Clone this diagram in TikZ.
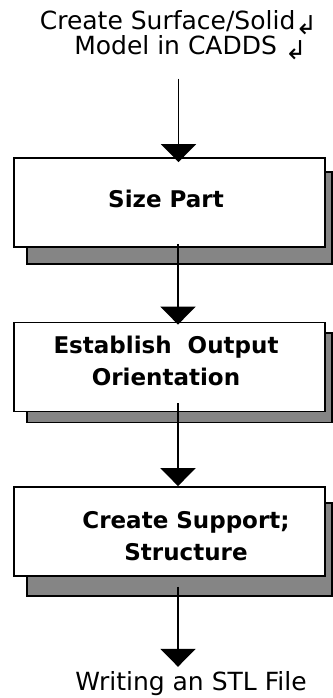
\documentclass[tikz,border=0pt]{standalone}
\usepackage{fontspec}
\setmainfont{DejaVu Sans}
\usetikzlibrary{arrows.meta,positioning}
\pgfdeclarelayer{shadowlayer}
\pgfsetlayers{shadowlayer,main}

\newcommand{\crsym}{{\fontsize{26}{26}\selectfont\raisebox{-5pt}{↲}}}

\tikzset{
  stepbox/.style={draw, line width=1.8pt, fill=white, minimum width=311pt, minimum height=89pt, inner sep=0pt},
  stepshadow/.style={draw, line width=1.8pt, fill=black!48},
  steptext/.style={font=\fontsize{23}{32}\selectfont\bfseries, align=center, inner sep=0pt},
  plaintext/.style={font=\fontsize{25}{22}\selectfont, align=center, inner sep=0pt},
  flow/.style={line width=1.8pt, -{Triangle[width=35pt,length=18pt]}}
}

\begin{document}
\begin{tikzpicture}[x=1pt,y=-1pt]
\useasboundingbox (0,0) rectangle (332,698);

% base of a two-line node is its last line
\node[plaintext, anchor=base] (cad) at (178.5,55) {Create Surface/Solid\crsym\\\hspace*{24pt}Model in CADDS \crsym};

\node[stepbox] (sp) at (169.5,202.5) {};
\node[stepbox] (eo) at (169.5,367) {};
\node[stepbox] (cs) at (169.5,531.5) {};

\node[steptext, anchor=base] (sptext) at (166,207) {Size Part};
\node[steptext, anchor=base] (eotext) at (166,385) {Establish\ \ Output\\Orientation};
\node[steptext, anchor=base] (cstext) at (186,560) {Create Support;\\Structure};

\node[plaintext, anchor=base] (stl) at (191,690) {Writing an STL File};

% drop shadows behind the boxes
\begin{pgfonlayer}{shadowlayer}
\draw[stepshadow] ([shift={(14,15)}]sp.north west) rectangle ([shift={(6,16)}]sp.south east);
\draw[stepshadow] ([shift={(14,11)}]eo.north west) rectangle ([shift={(6,10)}]eo.south east);
\draw[stepshadow] ([shift={(14,17)}]cs.north west) rectangle ([shift={(6,19)}]cs.south east);
\end{pgfonlayer}

\draw[flow, shorten <=18pt, shorten >=-5pt] (cad.south) -- (cad.south |- sp.north);
\draw[flow] ([xshift=8.5pt,yshift=4pt]sp.south) -- ([xshift=8.5pt,yshift=-3pt]eo.north);
\draw[flow] ([xshift=8.5pt,yshift=9pt]eo.south) -- ([xshift=8.5pt]cs.north);
\draw[flow, shorten >=4pt] ([xshift=8.5pt,yshift=-10pt]cs.south) -- ([xshift=8.5pt]cs.south |- stl.north);
\end{tikzpicture}
\end{document}
